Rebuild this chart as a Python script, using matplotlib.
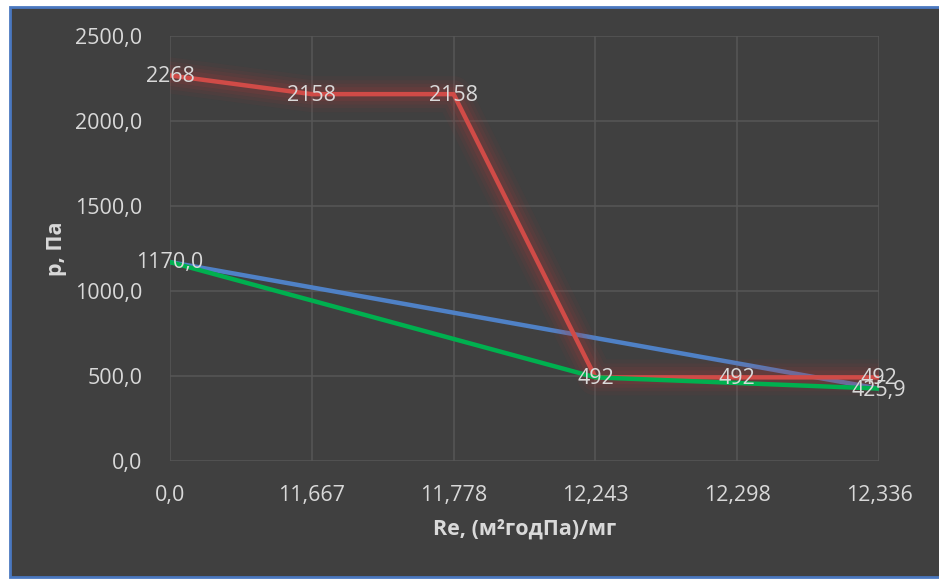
import matplotlib
matplotlib.use("Agg")
import matplotlib.pyplot as plt
import matplotlib.patheffects as pe
from matplotlib.patches import Rectangle
import numpy as np

categories = ["0,0", "11,667", "11,778", "12,243", "12,298", "12,336"]
red_x = [0, 1, 2, 3, 4, 5]
red_vals = [2268, 2158, 2158, 492, 492, 492]
red_labels = ["2268", "2158", "2158", "492", "492", "492"]
blue_x = [0, 5]
blue_vals = [1170.0, 425.9]
green_x = [0, 3, 5]
green_vals = [1170.0, 492, 425.9]
end_labels = ["1170,0", "425,9"]
yticks = [0, 500, 1000, 1500, 2000, 2500]
ytick_labels = ["0,0", "500,0", "1000,0", "1500,0", "2000,0", "2500,0"]

W, H = 939, 585
fig = plt.figure(figsize=(W / 100, H / 100), dpi=100)
fig.patch.set_facecolor("white")
bg = "#404040"
fig.add_artist(Rectangle((9.5 / W, 1 - 576.5 / H), (945 - 9.5) / W, (576.5 - 6.5) / H,
                         transform=fig.transFigure, facecolor=bg, edgecolor="#4a78c0",
                         linewidth=2, zorder=0))

ax = fig.add_axes([170 / W, 1 - 461 / H, (879 - 170) / W, (461 - 36) / H])
ax.set_facecolor("none")
ax.set_xlim(0, 5)
ax.set_ylim(0, 2500)
for s in ax.spines.values():
    s.set_visible(False)
ax.set_xticks(range(len(categories)))
ax.set_yticks(yticks)
ax.grid(True, color="#575757", linewidth=1.1, zorder=1)
ax.tick_params(length=0)
font = "Open Sans"
txtc = "#d9d9d9"
fs = 15.5
ax.set_xticklabels(categories, fontsize=fs, color=txtc, family=font)
ax.set_yticklabels(ytick_labels, fontsize=fs, color=txtc, family=font)
ax.tick_params(axis="x", pad=17)
ax.tick_params(axis="y", pad=20)

ax.plot(blue_x, blue_vals, color="#4f81c6", linewidth=3.2, zorder=3, solid_capstyle="butt")
glow = [pe.Stroke(linewidth=w, foreground="#b83a37", alpha=a) for w, a in
        [(26, 0.05), (20, 0.07), (15, 0.09), (10, 0.13)]] + [pe.Normal()]
ax.plot(red_x, red_vals, color="#d04b47", linewidth=3.2, zorder=4, path_effects=glow)
ax.plot(green_x, green_vals, color="#00b04f", linewidth=3.2, zorder=5)

for x, v, t in zip(red_x, red_vals, red_labels):
    ax.text(x, v - 8, t, ha="center", va="center", fontsize=fs, color=txtc, family=font, zorder=6)
ax.text(blue_x[0], blue_vals[0], end_labels[0], ha="center", va="center", fontsize=fs,
        color=txtc, family=font, zorder=6)
ax.text(blue_x[-1], blue_vals[-1] - 14, end_labels[1], ha="center", va="center", fontsize=fs,
        color=txtc, family=font, zorder=6)

ax.set_ylabel("p, Па", fontsize=fs, fontweight="bold", color=txtc, family=font, labelpad=6)
ax.set_xlabel("Re, (м²годПа)/мг", fontsize=fs, fontweight="bold", color=txtc, family=font, labelpad=9)
ax.set_axisbelow(True)

fig.savefig("out.png", dpi=100)
